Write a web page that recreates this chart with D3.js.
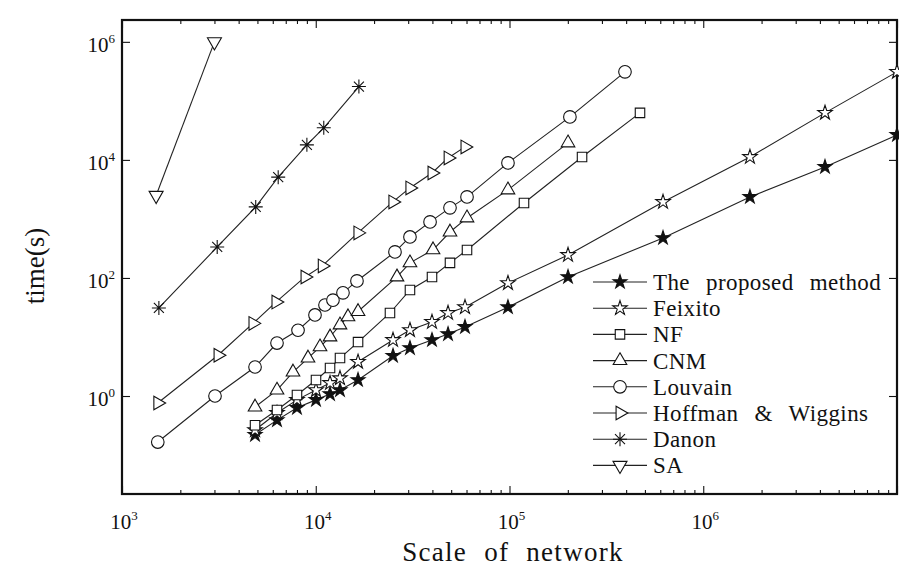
<!DOCTYPE html>
<html>
<head>
<meta charset="utf-8">
<script src="https://cdn.jsdelivr.net/npm/d3@7"></script>
<style>
  body { margin: 0; background: #fff; }
  svg { display: block; }
  text { font-family: "Liberation Serif", "DejaVu Serif", serif; fill: #111; }
</style>
</head>
<body>
<svg id="chart" width="899" height="572"></svg>
<script>
// Running time (s) versus network scale for each community detection method
const proposedX = [4860, 6310, 8000, 10030, 11850, 13340, 16530, 25050, 30640, 39810, 48170, 58930, 98200, 200500, 620000, 1742000, 4250000, 10000000];
const proposedY = [0.22, 0.39, 0.63, 0.86, 1.08, 1.26, 1.87, 4.8, 6.5, 8.9, 11.2, 14.8, 32, 104, 476, 2360, 7600, 26500];

const feixitoX = [4860, 6310, 8000, 10030, 11850, 13340, 16530, 25050, 30640, 39810, 48170, 58930, 98200, 200500, 620000, 1742000, 4250000, 10000000];
const feixitoY = [0.265, 0.515, 0.86, 1.26, 1.66, 2.0, 3.8, 8.9, 13.1, 18, 25.5, 32, 82, 245, 1940, 11200, 62600, 310000];

const nfX = [4860, 6310, 8000, 10030, 11850, 13340, 16530, 24160, 30640, 39810, 49300, 60350, 118800, 236800, 471600];
const nfY = [0.32, 0.58, 1.04, 1.87, 2.98, 4.4, 8.2, 25.5, 62.6, 104, 180, 298, 1860, 11200, 62600];

const cnmX = [4860, 6310, 7630, 9120, 10520, 11850, 13340, 14670, 16530, 26260, 30640, 40300, 49300, 60350, 98200, 200500];
const cnmY = [0.65, 1.26, 2.55, 4.4, 6.8, 10, 16, 22, 27, 104, 180, 300, 600, 1040, 3100, 19400];

const louvainX = [1530, 3020, 4860, 6310, 8100, 9910, 11160, 12270, 13820, 16320, 25640, 30640, 38900, 49300, 60350, 98200, 205000, 394500];
const louvainY = [0.166, 1.0, 3.1, 7.9, 13, 23.6, 34.8, 42, 56, 89, 276, 495, 890, 1540, 2360, 8900, 53500, 310000];

const hoffmanX = [1530, 3130, 4740, 6230, 8800, 10800, 16500, 25000, 30600, 39800, 48200, 58900];
const hoffmanY = [0.76, 4.9, 17, 39, 104, 160, 580, 1940, 3350, 6000, 10800, 16600];

const danonX = [1550, 3100, 4900, 6400, 9000, 11000, 16700];
const danonY = [31, 335, 1600, 5100, 18000, 35000, 175000];

const saX = [1500, 3000];
const saY = [2500, 1000000];

const seriesNames = ["The proposed method", "Feixito", "NF", "CNM", "Louvain", "Hoffman & Wiggins", "Danon", "SA"];
const seriesMarkers = ["starFill", "star", "square", "triUp", "circle", "triRight", "asterisk", "triDown"];
const seriesXs = [proposedX, feixitoX, nfX, cnmX, louvainX, hoffmanX, danonX, saX];
const seriesYs = [proposedY, feixitoY, nfY, cnmY, louvainY, hoffmanY, danonY, saY];

const xTickExps = [3, 4, 5, 6];
const yTickExps = [0, 2, 4, 6];

const svg = d3.select("#chart");
const plotLeft = 122, plotRight = 897, plotTop = 20, plotBottom = 494;

const x = d3.scaleLog().domain([1e3, 1e7]).range([plotLeft, plotRight]);
const y = d3.scaleLog().domain([Math.pow(10, -1.66), Math.pow(10, 6.37)]).range([plotBottom, plotTop]);

// minor ticks along x (2..9 in each decade)
const xMinor = [];
for (let e = 3; e < 7; e++) for (let k = 2; k <= 9; k++) xMinor.push(k * Math.pow(10, e));
const xMajor = d3.range(3, 8).map(e => Math.pow(10, e));
const yMajor = yTickExps.map(e => Math.pow(10, e));

const axisStyle = g => {
  g.select(".domain").remove();
  g.selectAll("line").attr("stroke", "#111").attr("stroke-width", 1.1);
  g.selectAll("text").remove();
};

svg.append("g").attr("transform", `translate(0,${plotBottom})`)
  .call(d3.axisBottom(x).tickValues(xMinor).tickSize(-4)).call(axisStyle);
svg.append("g").attr("transform", `translate(0,${plotBottom})`)
  .call(d3.axisBottom(x).tickValues(xMajor).tickSize(-8)).call(axisStyle);
svg.append("g").attr("transform", `translate(0,${plotTop})`)
  .call(d3.axisTop(x).tickValues(xMinor).tickSize(-4)).call(axisStyle);
svg.append("g").attr("transform", `translate(0,${plotTop})`)
  .call(d3.axisTop(x).tickValues(xMajor).tickSize(-8)).call(axisStyle);
svg.append("g").attr("transform", `translate(${plotLeft},0)`)
  .call(d3.axisLeft(y).tickValues(yMajor).tickSize(-8)).call(axisStyle);
svg.append("g").attr("transform", `translate(${plotRight},0)`)
  .call(d3.axisRight(y).tickValues(yMajor).tickSize(-8)).call(axisStyle);

// tick labels as powers of ten
xTickExps.forEach(e => {
  const t = svg.append("text").attr("x", x(Math.pow(10, e)) + 2).attr("y", 529)
    .attr("text-anchor", "middle").style("font-size", "21px");
  t.append("tspan").text("10");
  t.append("tspan").attr("dy", -9).style("font-size", "13px").text(e);
});
yTickExps.forEach(e => {
  const t = svg.append("text").attr("x", 115).attr("y", y(Math.pow(10, e)) + 10)
    .attr("text-anchor", "end").style("font-size", "21px");
  t.append("tspan").text("10");
  t.append("tspan").attr("dy", -9).style("font-size", "13px").text(e);
});

// plot frame
svg.append("rect").attr("x", plotLeft).attr("y", plotTop)
  .attr("width", plotRight - plotLeft).attr("height", plotBottom - plotTop)
  .attr("fill", "none").attr("stroke", "#111").attr("stroke-width", 2.2);

// axis titles
svg.append("text").attr("x", 513).attr("y", 561).attr("text-anchor", "middle")
  .style("font-size", "27px").style("letter-spacing", "1.3px").style("word-spacing", "9px")
  .text("Scale of network");
svg.append("text").attr("transform", "translate(44,266) rotate(-90)").attr("text-anchor", "middle")
  .style("font-size", "27px")
  .text("time(s)");

// marker shapes
function drawMarker(g, type, cx, cy) {
  let path, fill = "#fff", rot = 0;
  switch (type) {
    case "starFill": path = d3.symbol(d3.symbolStar, 60)(); fill = "#111"; break;
    case "star": path = d3.symbol(d3.symbolStar, 65)(); break;
    case "square": path = d3.symbol(d3.symbolSquare, 90)(); break;
    case "triUp": path = d3.symbol(d3.symbolTriangle, 80)(); break;
    case "circle": path = d3.symbol(d3.symbolCircle, 125)(); break;
    case "triRight": path = d3.symbol(d3.symbolTriangle, 80)(); rot = 90; break;
    case "triDown": path = d3.symbol(d3.symbolTriangle, 85)(); rot = 180; break;
    case "asterisk": path = "M-7,0L7,0M0,-7L0,7M-5,-5L5,5M-5,5L5,-5"; fill = "none"; break;
  }
  g.append("path").attr("d", path)
    .attr("transform", `translate(${cx},${cy}) rotate(${rot})`)
    .attr("fill", fill).attr("stroke", "#111").attr("stroke-width", 1.1);
}

const plot = svg.append("g");
const line = d3.line().x(d => x(d[0])).y(d => y(d[1]));

seriesNames.forEach((name, i) => {
  const pts = seriesXs[i].map((v, j) => [v, seriesYs[i][j]]);
  plot.append("path").attr("d", line(pts)).attr("fill", "none")
    .attr("stroke", "#222").attr("stroke-width", 1.1);
  const mg = plot.append("g");
  pts.forEach(p => drawMarker(mg, seriesMarkers[i], x(p[0]), y(p[1])));
});

// legend
seriesNames.forEach((name, i) => {
  const cy = 282 + i * 26.2;
  const g = svg.append("g");
  g.append("line").attr("x1", 593).attr("x2", 647).attr("y1", cy).attr("y2", cy)
    .attr("stroke", "#222").attr("stroke-width", 1.1);
  drawMarker(g, seriesMarkers[i], 620, cy);
  g.append("text").attr("x", 653).attr("y", cy + 8).style("font-size", "23px")
    .style("letter-spacing", "0.4px").style("word-spacing", "10px").text(name);
});
</script>
</body>
</html>
